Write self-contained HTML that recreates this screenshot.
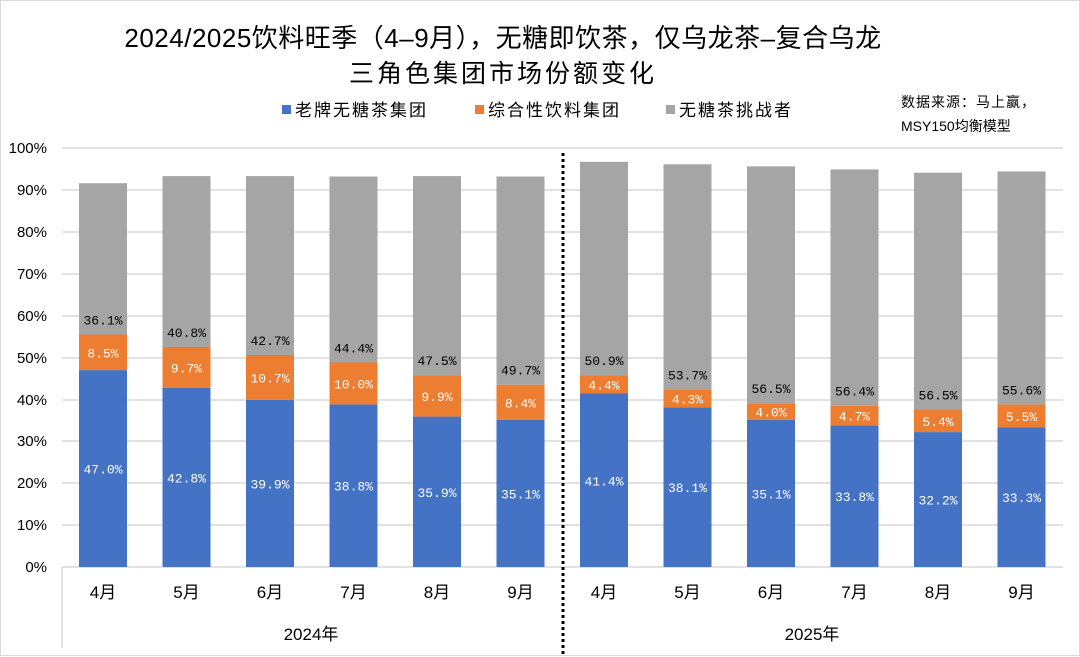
<!DOCTYPE html>
<html><head><meta charset="utf-8"><style>
html,body{margin:0;padding:0;background:#fff}
svg{display:block}
text{font-family:"Liberation Sans","Noto Sans CJK SC",sans-serif}
.m{font-family:"Liberation Mono","Noto Sans CJK SC",monospace;font-size:13px}
.w{fill:#fff}
</style></head><body>
<svg width="1080" height="657" viewBox="0 0 1080 657" xmlns="http://www.w3.org/2000/svg">
<rect x="0.5" y="0.5" width="1079" height="655" fill="#fff" stroke="#d9d9d9"/>
<text x="503" y="47" font-size="26" text-anchor="middle" fill="#000" letter-spacing="0.5">2024/2025饮料旺季（4–9月），无糖即饮茶，仅乌龙茶–复合乌龙</text>
<text x="503" y="82" font-size="25" text-anchor="middle" fill="#000" letter-spacing="3">三角色集团市场份额变化</text>
<rect x="282" y="105" width="9" height="9" fill="#4472c4"/>
<text x="295" y="116" font-size="17" letter-spacing="2">老牌无糖茶集团</text>
<rect x="475" y="105" width="9" height="9" fill="#ed7d31"/>
<text x="488" y="116" font-size="17" letter-spacing="2">综合性饮料集团</text>
<rect x="666" y="105" width="9" height="9" fill="#a5a5a5"/>
<text x="679" y="116" font-size="17" letter-spacing="2">无糖茶挑战者</text>
<text x="901" y="107" font-size="14" letter-spacing="1">数据来源：马上赢，</text>
<text x="901" y="131" font-size="14">MSY150均衡模型</text>
<g stroke="#d9d9d9" stroke-width="1.5">
<line x1="62" x2="1063" y1="148" y2="148"/><line x1="62" x2="1063" y1="190" y2="190"/>
<line x1="62" x2="1063" y1="232" y2="232"/><line x1="62" x2="1063" y1="274" y2="274"/>
<line x1="62" x2="1063" y1="316" y2="316"/><line x1="62" x2="1063" y1="358" y2="358"/>
<line x1="62" x2="1063" y1="400" y2="400"/><line x1="62" x2="1063" y1="441" y2="441"/>
<line x1="62" x2="1063" y1="483" y2="483"/><line x1="62" x2="1063" y1="525" y2="525"/>
<line x1="62" x2="1063" y1="567" y2="567"/>
<line x1="62" x2="62" y1="567" y2="648"/>
</g>
<g font-size="15" text-anchor="end" fill="#000">
<text x="47" y="153">100%</text><text x="47" y="195">90%</text><text x="47" y="237">80%</text>
<text x="47" y="279">70%</text><text x="47" y="321">60%</text><text x="47" y="363">50%</text>
<text x="47" y="405">40%</text><text x="47" y="446">30%</text><text x="47" y="488">20%</text>
<text x="47" y="530">10%</text><text x="47" y="572">0%</text>
</g>
<g>
<rect x="79" y="370.1" width="48" height="196.9" fill="#4472c4"/><rect x="79" y="334.5" width="48" height="35.6" fill="#ed7d31"/><rect x="79" y="183.2" width="48" height="151.3" fill="#a5a5a5"/>
<rect x="162.5" y="387.7" width="48" height="179.3" fill="#4472c4"/><rect x="162.5" y="347" width="48" height="40.7" fill="#ed7d31"/><rect x="162.5" y="176.1" width="48" height="170.9" fill="#a5a5a5"/>
<rect x="246" y="399.8" width="48" height="167.2" fill="#4472c4"/><rect x="246" y="355" width="48" height="44.8" fill="#ed7d31"/><rect x="246" y="176.1" width="48" height="178.9" fill="#a5a5a5"/>
<rect x="329.5" y="404.4" width="48" height="162.6" fill="#4472c4"/><rect x="329.5" y="362.5" width="48" height="41.9" fill="#ed7d31"/><rect x="329.5" y="176.5" width="48" height="186" fill="#a5a5a5"/>
<rect x="413" y="416.6" width="48" height="150.4" fill="#4472c4"/><rect x="413" y="375.1" width="48" height="41.5" fill="#ed7d31"/><rect x="413" y="176.1" width="48" height="199" fill="#a5a5a5"/>
<rect x="496.5" y="419.9" width="48" height="147.1" fill="#4472c4"/><rect x="496.5" y="384.7" width="48" height="35.2" fill="#ed7d31"/><rect x="496.5" y="176.5" width="48" height="208.2" fill="#a5a5a5"/>
<rect x="580" y="393.5" width="48" height="173.5" fill="#4472c4"/><rect x="580" y="375.1" width="48" height="18.4" fill="#ed7d31"/><rect x="580" y="161.8" width="48" height="213.3" fill="#a5a5a5"/>
<rect x="663.5" y="407.4" width="48" height="159.6" fill="#4472c4"/><rect x="663.5" y="389.3" width="48" height="18.1" fill="#ed7d31"/><rect x="663.5" y="164.3" width="48" height="225" fill="#a5a5a5"/>
<rect x="747" y="419.9" width="48" height="147.1" fill="#4472c4"/><rect x="747" y="403.2" width="48" height="16.7" fill="#ed7d31"/><rect x="747" y="166.4" width="48" height="236.8" fill="#a5a5a5"/>
<rect x="830.5" y="425.4" width="48" height="141.6" fill="#4472c4"/><rect x="830.5" y="405.7" width="48" height="19.7" fill="#ed7d31"/><rect x="830.5" y="169.4" width="48" height="236.3" fill="#a5a5a5"/>
<rect x="914" y="432.1" width="48" height="134.9" fill="#4472c4"/><rect x="914" y="409.5" width="48" height="22.6" fill="#ed7d31"/><rect x="914" y="172.7" width="48" height="236.8" fill="#a5a5a5"/>
<rect x="997.5" y="427.5" width="48" height="139.5" fill="#4472c4"/><rect x="997.5" y="404.4" width="48" height="23.1" fill="#ed7d31"/><rect x="997.5" y="171.5" width="48" height="232.9" fill="#a5a5a5"/>
</g>
<g text-anchor="middle">
<text class="m w" x="103" y="473.5">47.0%</text><text class="m w" x="103" y="357.3">8.5%</text><text class="m" x="103" y="324.5">36.1%</text>
<text class="m w" x="186.5" y="482.3">42.8%</text><text class="m w" x="186.5" y="372.3">9.7%</text><text class="m" x="186.5" y="337">40.8%</text>
<text class="m w" x="270" y="488.4">39.9%</text><text class="m w" x="270" y="382.4">10.7%</text><text class="m" x="270" y="345">42.7%</text>
<text class="m w" x="353.5" y="490.7">38.8%</text><text class="m w" x="353.5" y="388.5">10.0%</text><text class="m" x="353.5" y="352.5">44.4%</text>
<text class="m w" x="437" y="496.8">35.9%</text><text class="m w" x="437" y="400.8">9.9%</text><text class="m" x="437" y="365">47.5%</text>
<text class="m w" x="520.5" y="498.5">35.1%</text><text class="m w" x="520.5" y="407.3">8.4%</text><text class="m" x="520.5" y="374.7">49.7%</text>
<text class="m w" x="604" y="485.3">41.4%</text><text class="m w" x="604" y="389.3">4.4%</text><text class="m" x="604" y="365">50.9%</text>
<text class="m w" x="687.5" y="492.2">38.1%</text><text class="m w" x="687.5" y="403.4">4.3%</text><text class="m" x="687.5" y="379.3">53.7%</text>
<text class="m w" x="771" y="498.5">35.1%</text><text class="m w" x="771" y="416.6">4.0%</text><text class="m" x="771" y="393.2">56.5%</text>
<text class="m w" x="854.5" y="501.2">33.8%</text><text class="m w" x="854.5" y="420.5">4.7%</text><text class="m" x="854.5" y="395.7">56.4%</text>
<text class="m w" x="938" y="504.5">32.2%</text><text class="m w" x="938" y="425.8">5.4%</text><text class="m" x="938" y="399.5">56.5%</text>
<text class="m w" x="1021.5" y="502.2">33.3%</text><text class="m w" x="1021.5" y="421">5.5%</text><text class="m" x="1021.5" y="394.4">55.6%</text>
</g>
<g font-size="17" text-anchor="middle" fill="#000">
<text x="103" y="598">4月</text><text x="186.5" y="598">5月</text><text x="270" y="598">6月</text>
<text x="353.5" y="598">7月</text><text x="437" y="598">8月</text><text x="520.5" y="598">9月</text>
<text x="604" y="598">4月</text><text x="687.5" y="598">5月</text><text x="771" y="598">6月</text>
<text x="854.5" y="598">7月</text><text x="938" y="598">8月</text><text x="1021.5" y="598">9月</text>
</g>
<line x1="563" x2="563" y1="153" y2="657" stroke="#000" stroke-width="3" stroke-dasharray="3,3"/>
<text x="311" y="640" font-size="17" text-anchor="middle">2024年</text>
<text x="812" y="640" font-size="17" text-anchor="middle">2025年</text>
</svg>
</body></html>
